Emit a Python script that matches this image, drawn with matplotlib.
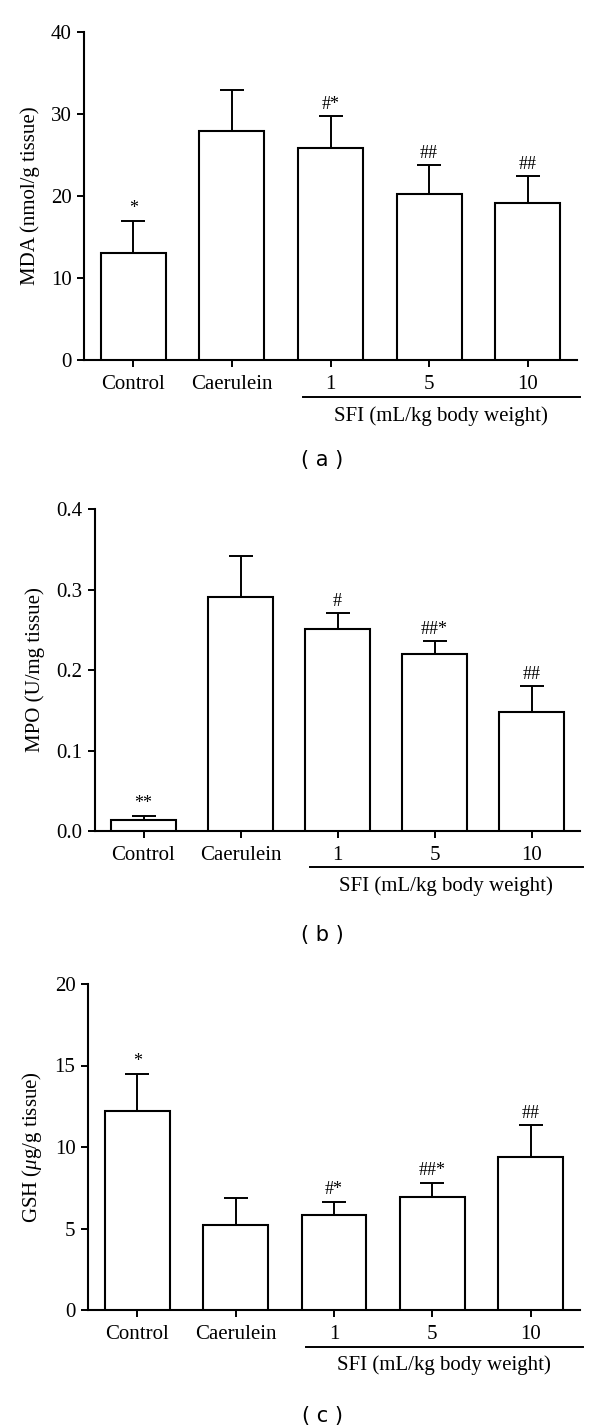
import matplotlib
matplotlib.use("Agg")
import matplotlib.pyplot as plt

groups = ["Control", "Caerulein", "1", "5", "10"]

mda = [13.0, 27.9, 25.9, 20.2, 19.1]
mda_err = [4.0, 5.0, 3.8, 3.6, 3.3]
mda_marks = ["*", "", "#*", "##", "##"]

mpo = [0.014, 0.291, 0.251, 0.220, 0.148]
mpo_err = [0.005, 0.050, 0.020, 0.016, 0.032]
mpo_marks = ["**", "", "#", "##*", "##"]

gsh = [12.2, 5.2, 5.85, 6.96, 9.38]
gsh_err = [2.3, 1.65, 0.8, 0.86, 1.96]
gsh_marks = ["*", "", "#*", "##*", "##"]

plt.rcParams['font.family'] = ['Liberation Serif', 'DejaVu Serif']
plt.rcParams['mathtext.fontset'] = 'custom'
plt.rcParams['mathtext.it'] = 'Liberation Serif:italic'
plt.rcParams['mathtext.rm'] = 'Liberation Serif'

fig = plt.figure(figsize=(6, 14.28), dpi=100)
H = 1428.0


def panel(rect_px, vals, errs, marks, ylim, yticks, ylabel, letter, letter_y, fmt="%g"):
    left, right, top, bottom = rect_px
    ax = fig.add_axes([left / 600, 1 - bottom / H, (right - left) / 600, (bottom - top) / H])
    x = list(range(len(vals)))
    ax.bar(x, vals, width=0.66, color="white", edgecolor="black", linewidth=1.5, zorder=3)
    ax.errorbar(x, vals, yerr=[[0] * len(vals), errs], fmt="none", ecolor="black",
                elinewidth=1.4, capsize=8.5, capthick=1.4, zorder=2)
    span = ylim[1] - ylim[0]
    for xi, v, e, m in zip(x, vals, errs, marks):
        if m:
            ax.text(xi, v + e + span * 0.01, m, ha="center", va="bottom", fontsize=13)
    ax.set_xlim(-0.5, 4.5)
    ax.set_ylim(*ylim)
    ax.set_yticks(yticks)
    ax.set_yticklabels([fmt % t for t in yticks])
    ax.set_xticks(x)
    ax.set_xticklabels(groups)
    ax.set_ylabel(ylabel, fontsize=15, labelpad=8)
    ax.spines["top"].set_visible(False)
    ax.spines["right"].set_visible(False)
    for s in ["left", "bottom"]:
        ax.spines[s].set_linewidth(1.5)
    ax.tick_params(direction="out", length=5, width=1.4, labelsize=15, pad=4)
    ax.tick_params(axis="x", pad=6)
    # SFI bracket line
    trans = ax.get_xaxis_transform()
    ax.plot([1.72, 4.53], [-0.113, -0.113], color="black", linewidth=1.4,
            transform=trans, clip_on=False)
    ax.text(3.12, -0.17, "SFI (mL/kg body weight)", ha="center", va="center",
            fontsize=15, transform=trans)
    fig.text(322 / 600, 1 - letter_y / H, "( %s )" % letter, ha="center", va="center",
             fontsize=15, family="DejaVu Sans")
    return ax


panel((84, 577, 32, 360), mda, mda_err, mda_marks, (0, 40), [0, 10, 20, 30, 40],
      "MDA (nmol/g tissue)", "a", 460)
panel((95, 580, 509, 831), mpo, mpo_err, mpo_marks, (0, 0.4), [0.0, 0.1, 0.2, 0.3, 0.4],
      "MPO (U/mg tissue)", "b", 935, fmt="%.1f")
panel((88, 580, 984, 1310), gsh, gsh_err, gsh_marks, (0, 20), [0, 5, 10, 15, 20],
      r"GSH ($\mathit{\mu}$g/g tissue)", "c", 1416)

fig.savefig("out.png", dpi=100)
